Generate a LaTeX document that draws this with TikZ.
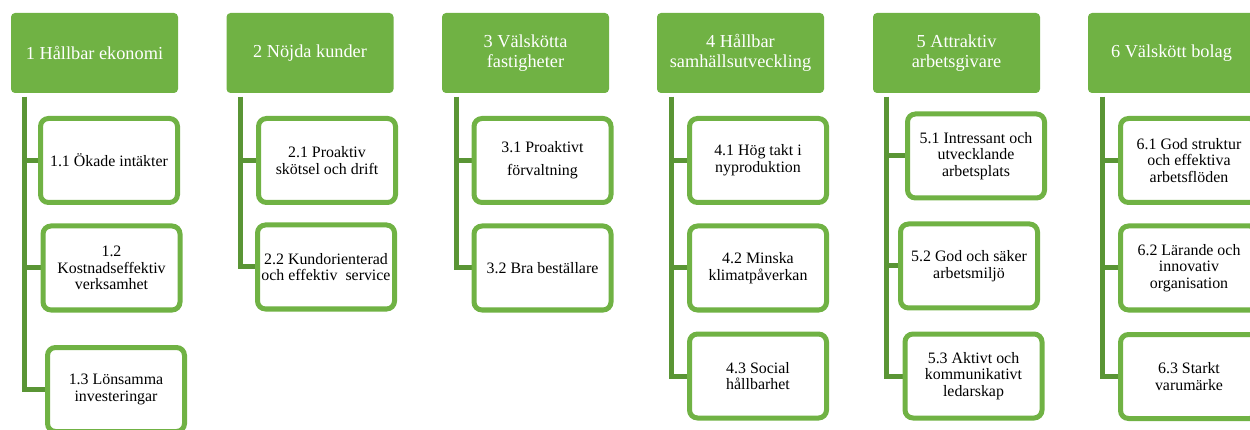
\documentclass[tikz,border=0pt]{standalone}
\usepackage{fontspec}
\setmainfont{Liberation Serif}
\usetikzlibrary{backgrounds}
\definecolor{hdr}{HTML}{70B244}
\definecolor{brd}{HTML}{70B244}
\definecolor{barc}{HTML}{5A9535}
\begin{document}
\begin{tikzpicture}[x=1pt,y=-1pt,
  hdrbox/.style={fill=hdr, rounded corners=4pt, minimum width=167pt, minimum height=80pt,
    inner sep=0pt, align=center, text=white, font=\fontsize{18.3}{19.3}\selectfont},
  childbox/.style={draw=brd, line width=5pt, fill=white, rounded corners=8pt,
    minimum width=137pt, minimum height=84pt, inner sep=0pt, align=center,
    font=\fontsize{15.9}{16.7}\selectfont},
  barline/.style={draw=barc, line width=5pt}]
\path[use as bounding box] (0,0) rectangle (1250,430);
\clip (0,0) rectangle (1250,430);

% headers
\node[hdrbox] (h1) at (94.5,53) {1 Hållbar ekonomi};
\node[hdrbox] (h2) at (310,53) {2 Nöjda kunder};
\node[hdrbox] (h3) at (525.5,53) {3 Välskötta\\fastigheter};
\node[hdrbox] (h4) at (740.5,53) {4 Hållbar\\samhällsutveckling};
\node[hdrbox] (h5) at (956.5,53) {5 Attraktiv\\arbetsgivare};
\node[hdrbox] (h6) at (1171.5,53) {6 Välskött bolag};

% children
\node[childbox] (c11) at (109,160.5) {1.1 Ökade intäkter};
\node[childbox] (c12) at (111.5,268) {1.2\\Kostnadseffektiv\\verksamhet};
\node[childbox] (c13) at (116,389.5) {1.3 Lönsamma\\investeringar};
\node[childbox] (c21) at (327,160.5) {2.1 Proaktiv\\skötsel och drift};
\node[childbox] (c22) at (326,267) {2.2 Kundorienterad\\och effektiv\ \ service};
\node[childbox] (c31) at (542.5,160.5) {3.1 Proaktivt\\[6pt]förvaltning};
\node[childbox] (c32) at (542.5,268) {3.2 Bra beställare};
\node[childbox] (c41) at (758,160.5) {4.1 Hög takt i\\nyproduktion};
\node[childbox] (c42) at (758,268) {4.2 Minska\\klimatpåverkan};
\node[childbox] (c43) at (758,376) {4.3 Social\\hållbarhet};
\node[childbox] (c51) at (976,156) {5.1 Intressant och\\utvecklande\\arbetsplats};
\node[childbox] (c52) at (969,266) {5.2 God och säker\\arbetsmiljö};
\node[childbox] (c53) at (973.5,376) {5.3 Aktivt och\\kommunikativt\\ledarskap};
\node[childbox] (c61) at (1189,160.5) {6.1 God struktur\\och effektiva\\arbetsflöden};
\node[childbox] (c62) at (1189,268) {6.2 Lärande och\\innovativ\\organisation};
\node[childbox] (c63) at (1189,376.5) {6.3 Starkt\\varumärke};

% bars
\begin{scope}[on background layer]
\coordinate (t1) at ([xshift=14pt,yshift=-3.5pt]h1.south west);
\coordinate (t2) at ([xshift=14pt,yshift=-3.5pt]h2.south west);
\coordinate (t3) at ([xshift=15pt,yshift=-3.5pt]h3.south west);
\coordinate (t4) at ([xshift=15pt,yshift=-3.5pt]h4.south west);
\coordinate (t5) at ([xshift=14pt,yshift=-3.5pt]h5.south west);
\coordinate (t6) at ([xshift=15pt,yshift=-3.5pt]h6.south west);

\draw[barline] (t1) |- (c13.west);
\draw[barline] (t1 |- c11.west) -- (c11.west);
\draw[barline] (t1 |- c12.west) -- (c12.west);

\draw[barline] (t2) |- (c22.west);
\draw[barline] (t2 |- c21.west) -- (c21.west);

\draw[barline] (t3) |- (c32.west);
\draw[barline] (t3 |- c31.west) -- (c31.west);

\draw[barline] (t4) |- (c43.west);
\draw[barline] (t4 |- c41.west) -- (c41.west);
\draw[barline] (t4 |- c42.west) -- (c42.west);

\draw[barline] (t5) |- (c53.west);
\draw[barline] (t5 |- c51.west) -- (c51.west);
\draw[barline] (t5 |- c52.west) -- (c52.west);

\draw[barline] (t6) |- (c63.west);
\draw[barline] (t6 |- c61.west) -- (c61.west);
\draw[barline] (t6 |- c62.west) -- (c62.west);
\end{scope}
\end{tikzpicture}
\end{document}
